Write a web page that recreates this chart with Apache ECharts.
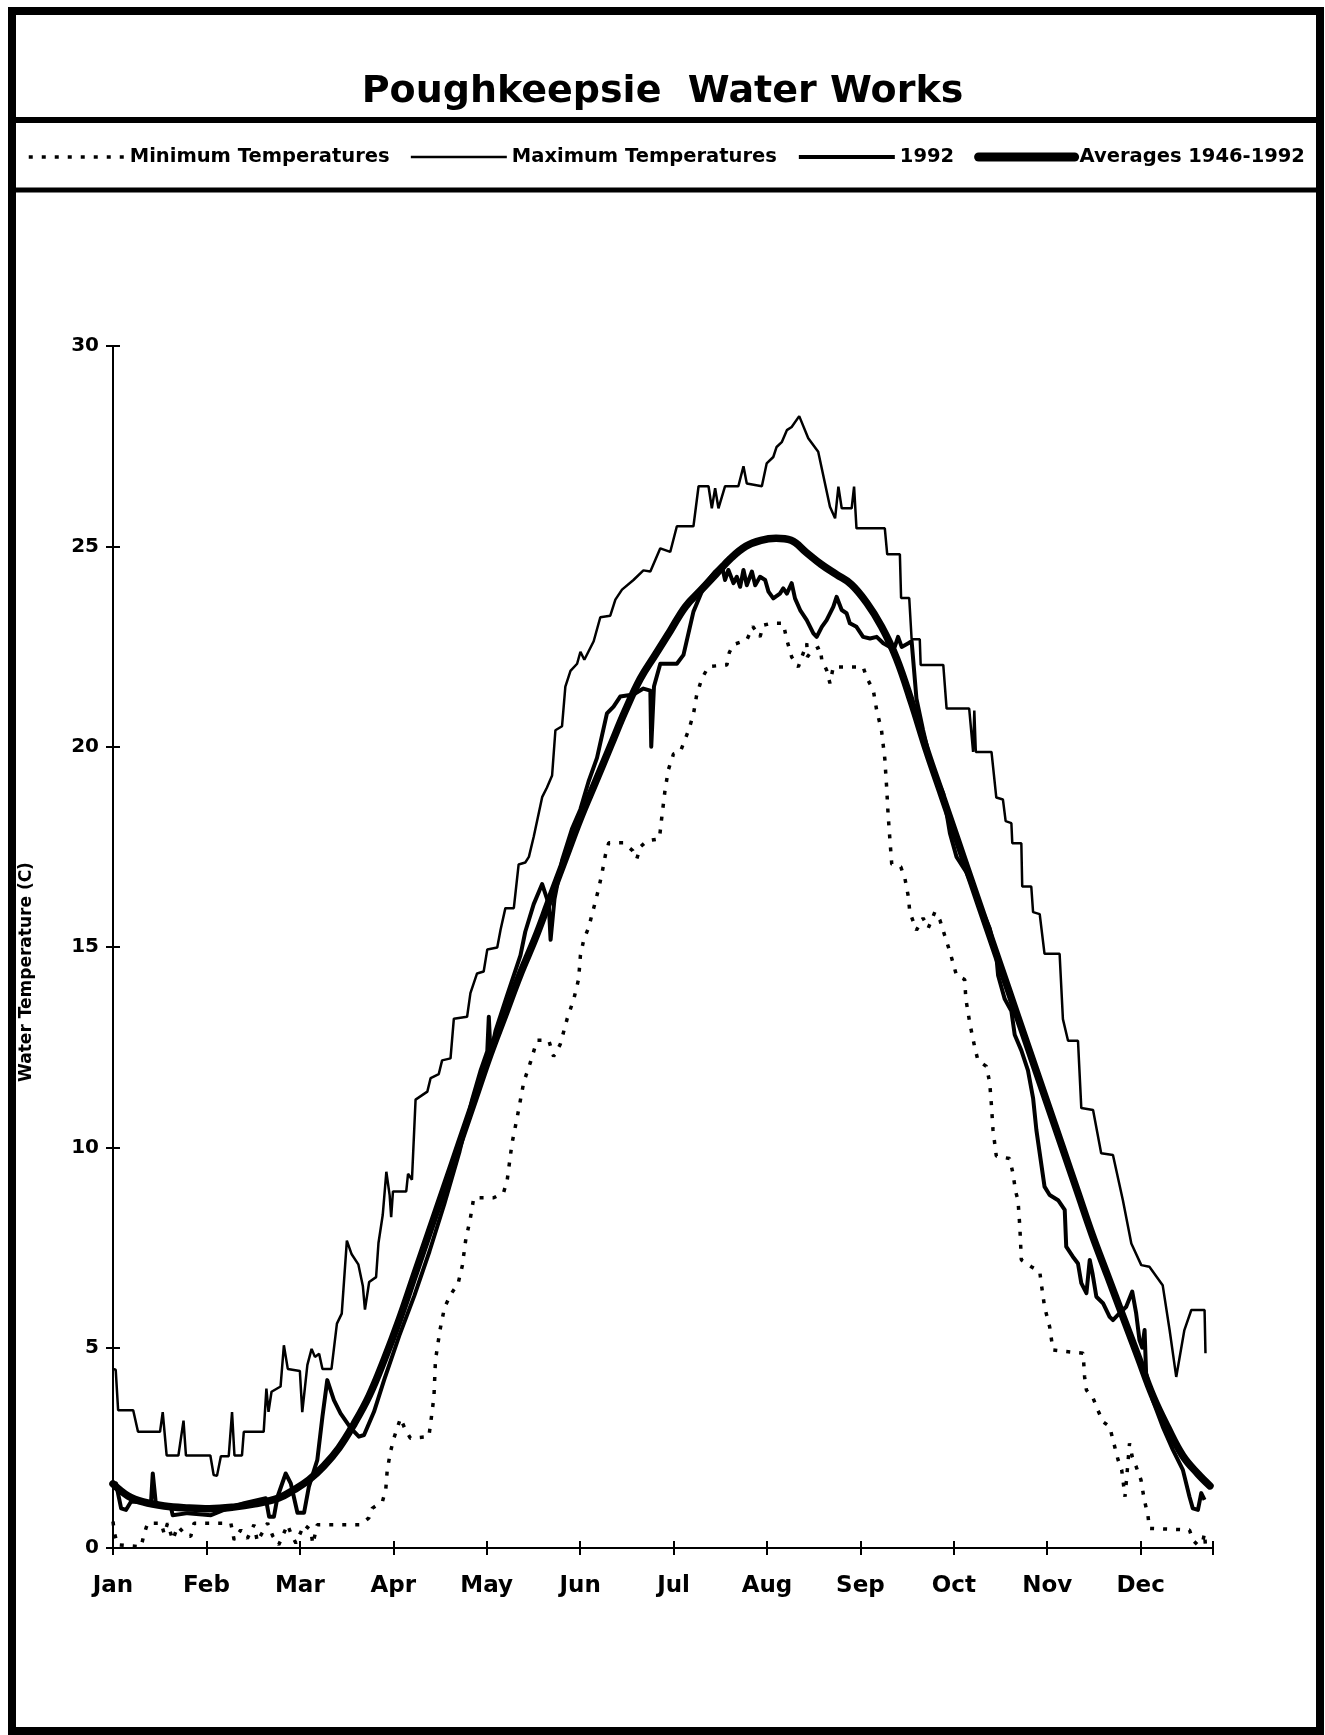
<!DOCTYPE html>
<html>
<head>
    <meta charset="utf-8">
    <title>Poughkeepsie Water Works</title>
    <script src="https://cdn.jsdelivr.net/npm/echarts/dist/echarts.min.js"></script>
    <style>
        html, body { margin: 0; padding: 0; background: #fff; }
        #main { width: 1325px; height: 1735px; }
    </style>
</head>
<body>
<div id="main"></div>
<script>
    // month labels, one every 31 days on the day axis
    var months = ['Jan', 'Feb', 'Mar', 'Apr', 'May', 'Jun', 'Jul', 'Aug', 'Sep', 'Oct', 'Nov', 'Dec'];
    var dayStep = 31;
    var seriesNames = ['Minimum Temperatures', 'Maximum Temperatures', '1992', 'Averages 1946-1992'];

    // [day of year, water temperature C]
    var minTemp = [
        [0,0.66],[0.5,0.37],[1.5,0.08],[9.3,0.03],[10.4,0.37],[11.5,0.62],[16,0.62],[17,0.35],[18.1,0.62],[19.8,0.2],
        [21.5,0.54],[24.5,0.3],[25.8,0.29],[26.9,0.62],[39.1,0.62],[40.2,0.2],[42.4,0.45],[44.6,0.24],[46.8,0.58],[47.9,0.16],
        [51.3,0.62],[53,0.3],[55,0.08],[57.9,0.58],[59,0.37],[60.7,0.12],[63.4,0.58],[65.6,0.45],[66.3,0.1],[67.8,0.58],
        [82.2,0.58],[84.9,0.75],[86,0.99],[89.4,1.16],[90.5,1.45],[91,1.95],[92.1,2.41],[93.2,2.74],[95.4,3.24],[97,2.95],
        [98.7,2.74],[104.8,2.78],[105.4,3.11],[106.5,3.78],[107,4.69],[108.5,5.44],[110,6.0],[112,6.32],[114.5,6.6],[115.9,7.04],
        [117,7.67],[118.6,8.24],[119.7,8.74],[126.3,8.74],[129.6,8.87],[130.8,9.18],[132.4,10.1],[134.1,10.74],[136.3,11.63],[138.5,12.12],
        [140.7,12.67],[144.6,12.67],[146.2,12.27],[148.4,12.57],[150.7,13.21],[152.9,13.7],[154.5,14.2],[155.1,14.79],[156.2,15.18],[157.8,15.48],
        [159.5,15.97],[161.2,16.47],[162.3,16.86],[163.4,17.3],[164.5,17.6],[169.4,17.6],[172.5,17.4],[173.8,17.2],[175,17.5],[177.2,17.65],
        [181.3,17.7],[182.1,18.24],[183.2,18.93],[184.3,19.43],[186,19.82],[188.2,19.87],[189.3,20.08],[191,20.41],[192.6,20.81],[193.7,21.3],
        [195.4,21.7],[197.6,22.0],[203.7,22.04],[204.5,22.35],[205.9,22.55],[210.3,22.66],[212.3,23.0],[214.7,22.74],[215.8,23.03],[218.6,23.08],
        [222.4,23.08],[223.6,22.66],[225.2,22.24],[227.4,21.99],[230.2,22.58],[230.4,22.24],[232,22.4],[234.6,22.49],[235.2,22.16],[236.8,21.91],
        [237.9,21.58],[239,21.99],[248.9,21.99],[250,21.74],[252.3,21.4],[253.4,20.91],[255,20.41],[256.1,19.7],[256.7,19.0],[257.2,18.3],
        [257.8,17.67],[258.4,17.07],[261.4,17.0],[262.8,16.7],[263.9,16.26],[264.4,15.87],[266.6,15.42],[268.8,15.72],[270.5,15.47],[272.7,15.87],
        [274.4,15.67],[276,15.28],[277.7,14.88],[279.9,14.29],[282.6,14.19],[283,13.7],[284.3,13.1],[285.9,12.51],[287,12.17],[289.8,12.02],
        [290.9,11.62],[291.5,11.03],[292,10.44],[293.1,9.78],[297.5,9.72],[298.6,9.36],[299.5,8.9],[300.3,8.68],[300.9,8.02],[301.4,7.19],
        [304.7,7.02],[307.5,6.9],[308,6.61],[309.1,6.02],[310.8,5.52],[311.9,4.94],[321.9,4.86],[322.4,4.27],[323,3.94],[325.2,3.74],
        [326.8,3.44],[328.5,3.15],[330.7,3.03],[331.8,2.7],[333.5,2.2],[334.7,1.95],[335.8,1.28],[336.3,1.7],[337.3,2.61],[338.2,2.28],
        [339.5,2.03],[341.1,1.7],[342.2,1.2],[343.4,0.82],[343.9,0.49],[357.2,0.45],[358.3,0.2],[360,0.07],[361.7,0.2],[362.2,0.37],[362.5,0.05]
    ];

    var maxTemp = [
        [0,4.47],[0.9,4.45],[1.7,3.44],[6.7,3.44],[8.3,2.9],[15.6,2.9],[16.5,3.39],[17.8,2.31],[21.7,2.31],[23.4,3.18],
        [24.2,2.31],[32.3,2.31],[33.4,1.82],[34.5,1.8],[35.8,2.29],[38.4,2.29],[39.5,3.39],[40.3,2.31],[42.8,2.31],[43.4,2.9],
        [50,2.9],[50.9,3.98],[51.6,3.4],[52.6,3.9],[55.6,4.03],[56.7,5.06],[58,4.47],[62,4.42],[62.8,3.39],[64.5,4.57],
        [65.9,4.97],[67,4.77],[68.4,4.85],[69.5,4.47],[72.5,4.47],[74.3,5.6],[75.9,5.85],[77.6,7.67],[79.2,7.33],[81.4,7.08],
        [82.9,6.54],[83.6,5.95],[85,6.64],[87.3,6.76],[88.1,7.62],[89.5,8.31],[90.7,9.39],[91.8,8.8],[92.3,8.26],[92.9,8.9],
        [97.3,8.9],[97.9,9.34],[99.2,9.19],[100.4,11.19],[104.3,11.39],[105.4,11.73],[108.1,11.83],[109.2,12.17],[112,12.22],[113.1,13.21],
        [117.5,13.26],[118.6,13.85],[120.8,14.34],[123,14.39],[124.2,14.94],[127.5,14.99],[128.6,15.43],[130.2,15.97],[133,15.97],[134.6,17.06],
        [136.8,17.11],[138,17.25],[139.6,17.75],[142.4,18.74],[144,18.98],[145.7,19.28],[146.8,20.41],[149,20.51],[150.1,21.5],[151.8,21.89],
        [154,22.07],[155.1,22.37],[156.4,22.17],[159.5,22.63],[161.7,23.23],[165,23.27],[166.7,23.67],[168.9,23.92],[172.7,24.16],[176,24.4],
        [178.3,24.37],[181.6,24.95],[184.9,24.86],[187.1,25.5],[192.6,25.5],[194.3,26.5],[197.6,26.5],[198.7,25.95],[199.8,26.45],[200.9,25.95],
        [203.1,26.5],[207.5,26.5],[209.2,27.0],[210.3,26.57],[215.3,26.5],[216.9,27.07],[219.1,27.23],[220.2,27.48],[221.9,27.6],[223.6,27.9],
        [225.2,27.98],[227.7,28.25],[230.7,27.7],[234,27.36],[237.9,25.99],[239.6,25.7],[240.7,26.49],[241.8,25.95],[245.1,25.95],[245.9,26.49],
        [246.7,25.45],[256.1,25.45],[256.9,24.8],[261.1,24.8],[261.5,23.71],[264.2,23.71],[265,22.68],[267.7,22.68],[268,22.04],[275.5,22.04],
        [276.6,20.95],[284.1,20.95],[285.4,19.87],[285.8,20.9],[286.3,19.87],[291.5,19.87],[293.1,18.73],[295.3,18.68],[296.2,18.14],[298.1,18.09],
        [298.4,17.59],[301.4,17.59],[301.7,16.51],[304.7,16.51],[305.3,15.87],[307.5,15.82],[309.1,14.83],[314.1,14.83],[315.2,13.2],[316.9,12.66],
        [320.2,12.66],[321.3,10.98],[325.2,10.93],[327.9,9.85],[331.8,9.81],[335.1,8.68],[337.9,7.6],[341.2,7.06],[343.9,7.02],[348.3,6.56],
        [350.6,5.44],[352.8,4.27],[355.5,5.44],[357.8,5.94],[362.2,5.94],[362.5,4.86]
    ];

    var year1992 = [
        [0,1.53],[1,1.61],[2.7,0.99],[4.3,0.95],[6,1.16],[12.6,1.12],[13.2,1.86],[14.2,1.12],[19.2,1.03],[19.8,0.82],
        [24.8,0.87],[32.5,0.82],[38,0.99],[43.5,1.12],[50.7,1.24],[51.8,0.78],[53.4,0.78],[54.6,1.28],[57.3,1.86],[59,1.61],
        [61.2,0.88],[63.4,0.88],[65,1.53],[67.8,2.2],[69.5,3.28],[71.1,4.19],[73.3,3.69],[75.5,3.36],[78.9,2.99],[81.6,2.78],
        [83.3,2.82],[86.6,3.4],[90,4.2],[95,5.3],[100,6.3],[105,7.4],[110,8.6],[115,9.9],[119.2,11.2],[121.9,11.9],
        [124.2,12.4],[124.7,13.26],[125.3,12.3],[126.9,12.9],[130.8,13.8],[135.2,14.79],[136.8,15.38],[139.6,16.07],[142.4,16.57],[144.6,16.07],
        [145.2,15.18],[146.5,16.2],[149,17.16],[152.3,17.95],[155.1,18.44],[157.8,19.13],[160.6,19.72],[163.9,20.83],[166.1,21.0],[168.3,21.25],
        [172.7,21.3],[176,21.45],[178.3,21.4],[178.6,20.0],[179.5,21.5],[181.6,22.07],[187.1,22.07],[189.3,22.29],[192.6,23.37],[196.5,24.07],
        [199.8,24.37],[202,24.53],[203.1,24.16],[204.2,24.41],[205.9,24.08],[207,24.24],[208.1,23.99],[209.2,24.41],[210.3,24.03],[212,24.37],
        [213.1,24.03],[214.7,24.24],[216.4,24.16],[217.5,23.87],[219.1,23.7],[221.3,23.82],[222.4,23.95],[223.6,23.82],[225.2,24.08],[226.3,23.7],
        [228,23.41],[230.2,23.16],[232.4,22.83],[233.5,22.74],[235.2,22.99],[236.8,23.16],[239,23.49],[240.1,23.74],[241.8,23.41],[243.4,23.33],
        [244.5,23.08],[246.7,22.99],[248.9,22.74],[251.2,22.7],[253.4,22.74],[255.6,22.58],[257.8,22.49],[259.4,22.49],[260.5,22.74],[261.7,22.49],
        [263.9,22.58],[265,22.63],[266.6,21.2],[268.8,20.41],[271.6,19.52],[275.5,18.83],[277.7,17.84],[279.9,17.25],[283.2,16.86],[286.5,16.26],
        [290.9,15.47],[293.1,14.78],[293.7,14.29],[295.9,13.7],[298.1,13.4],[299.2,12.81],[301.4,12.42],[303.6,11.92],[305.3,11.23],[306.4,10.43],
        [309.1,9.02],[310.8,8.81],[313.6,8.68],[315.8,8.44],[316.3,7.52],[318.5,7.27],[320.2,7.1],[321.3,6.61],[323,6.36],[324.1,7.19],
        [325,6.86],[326.3,6.27],[328.5,6.11],[330.7,5.77],[331.8,5.69],[334,5.86],[336.2,6.02],[338.2,6.4],[339.5,5.86],[340.6,5.19],
        [341.5,5.0],[342.3,5.44],[342.8,4.36],[345,3.69],[348.3,3.03],[351.7,2.45],[355,1.95],[357.2,1.28],[358.3,0.99],[360,0.95],
        [361.1,1.37],[362.2,1.2]
    ];

    var average = [
        [0,1.6],[5,1.3],[10,1.15],[17,1.05],[25,1.0],[32,0.98],[40,1.02],[47,1.1],[55,1.25],[60,1.45],
        [65,1.7],[70,2.05],[75,2.5],[80,3.1],[85,3.8],[90,4.7],[95,5.7],[100,6.8],[105,7.9],[110,9.0],
        [115,10.1],[120,11.2],[125,12.3],[130,13.3],[135,14.3],[140,15.2],[145,16.2],[150,17.2],[155,18.2],[160,19.1],
        [165,20.0],[170,20.9],[175,21.7],[180,22.3],[185,22.9],[190,23.5],[195,23.9],[200,24.3],[205,24.7],[210,25.0],
        [215,25.15],[220,25.2],[225,25.15],[230,24.85],[235,24.55],[240,24.3],[245,24.05],[250,23.6],[255,23.0],[260,22.2],
        [265,21.1],[270,19.9],[275,18.8],[280,17.7],[285,16.6],[290,15.5],[295,14.4],[300,13.3],[305,12.2],[310,11.1],
        [315,10.0],[320,8.9],[325,7.8],[330,6.8],[335,5.8],[340,4.8],[345,3.8],[350,3.0],[355,2.3],[360,1.85],[364,1.55]
    ];

    var font = 'DejaVu Sans';
    var ink = '#000';

    var chart = echarts.init(document.getElementById('main'));

    function axisTicks(inside) {
        return { show: true, inside: inside, length: 7, lineStyle: { color: ink, width: 2 } };
    }

    var option = {
        animation: false,
        backgroundColor: '#fff',
        title: {
            text: 'Poughkeepsie  Water Works',
            left: 'center',
            top: 68,
            textStyle: { fontFamily: font, fontWeight: 'bold', fontSize: 38, color: ink }
        },
        legend: {
            left: 22,
            top: 142,
            itemWidth: 96,
            itemHeight: 14,
            itemGap: 20,
            selectedMode: false,
            itemStyle: { opacity: 0 },
            textStyle: { fontFamily: font, fontWeight: 'bold', fontSize: 19.5, color: ink },
            data: [
                { name: seriesNames[0], lineStyle: { width: 3.5, type: [4, 9] } },
                { name: seriesNames[1], lineStyle: { width: 2.5 } },
                { name: seriesNames[2], lineStyle: { width: 4 } },
                { name: seriesNames[3], lineStyle: { width: 9, cap: 'round' } }
            ]
        },
        grid: { left: 113, right: 112, top: 346, bottom: 187 },
        xAxis: [{
            type: 'value',
            min: 0,
            max: 365,
            interval: dayStep,
            axisLine: { onZero: false, lineStyle: { color: ink, width: 2 } },
            axisTick: axisTicks(false),
            splitLine: { show: false },
            axisLabel: {
                margin: 27,
                fontFamily: font, fontWeight: 'bold', fontSize: 23, color: ink,
                formatter: function (v) {
                    var i = Math.round(v / dayStep);
                    return (v % dayStep === 0 && i < months.length) ? months[i] : '';
                }
            }
        }, {
            // second axis only to make the ticks cross the line
            type: 'value', min: 0, max: 365, interval: dayStep, position: 'bottom',
            axisLine: { show: false }, axisTick: axisTicks(true),
            axisLabel: { show: false }, splitLine: { show: false }
        }],
        yAxis: [{
            type: 'value',
            min: 0,
            max: 30,
            interval: 5,
            name: 'Water Temperature (C)',
            nameLocation: 'middle',
            nameGap: 78,
            nameTextStyle: {
                fontFamily: font, fontWeight: 'bold', fontSize: 17, color: ink,
                padding: [0, 50, 0, 0]
            },
            axisLine: { show: true, lineStyle: { color: ink, width: 2 } },
            axisTick: axisTicks(false),
            splitLine: { show: false },
            axisLabel: { margin: 14, fontFamily: font, fontWeight: 'bold', fontSize: 20, color: ink }
        }, {
            type: 'value', min: 0, max: 30, interval: 5, position: 'left',
            axisLine: { show: false }, axisTick: axisTicks(true),
            axisLabel: { show: false }, splitLine: { show: false }
        }],
        series: [{
            name: seriesNames[0],
            type: 'line',
            data: minTemp,
            symbol: 'none',
            lineStyle: { color: ink, width: 3.5, type: [4, 9] }
        }, {
            name: seriesNames[1],
            type: 'line',
            data: maxTemp,
            symbol: 'none',
            lineStyle: { color: ink, width: 2.5 }
        }, {
            name: seriesNames[2],
            type: 'line',
            data: year1992,
            symbol: 'none',
            lineStyle: { color: ink, width: 4, join: 'round' }
        }, {
            name: seriesNames[3],
            type: 'line',
            data: average,
            symbol: 'none',
            smooth: 0.4,
            lineStyle: { color: ink, width: 7.5, join: 'round', cap: 'round' }
        }],
        graphic: [
            // page frame and the two rules boxing title and legend
            { type: 'rect', shape: { x: 12, y: 11, width: 1308, height: 1720 }, style: { fill: null, stroke: ink, lineWidth: 8 }, silent: true },
            { type: 'line', shape: { x1: 12, y1: 120, x2: 1320, y2: 120 }, style: { stroke: ink, lineWidth: 6 }, silent: true },
            { type: 'line', shape: { x1: 12, y1: 190, x2: 1320, y2: 190 }, style: { stroke: ink, lineWidth: 5 }, silent: true }
        ]
    };

    chart.setOption(option);
</script>
</body>
</html>
